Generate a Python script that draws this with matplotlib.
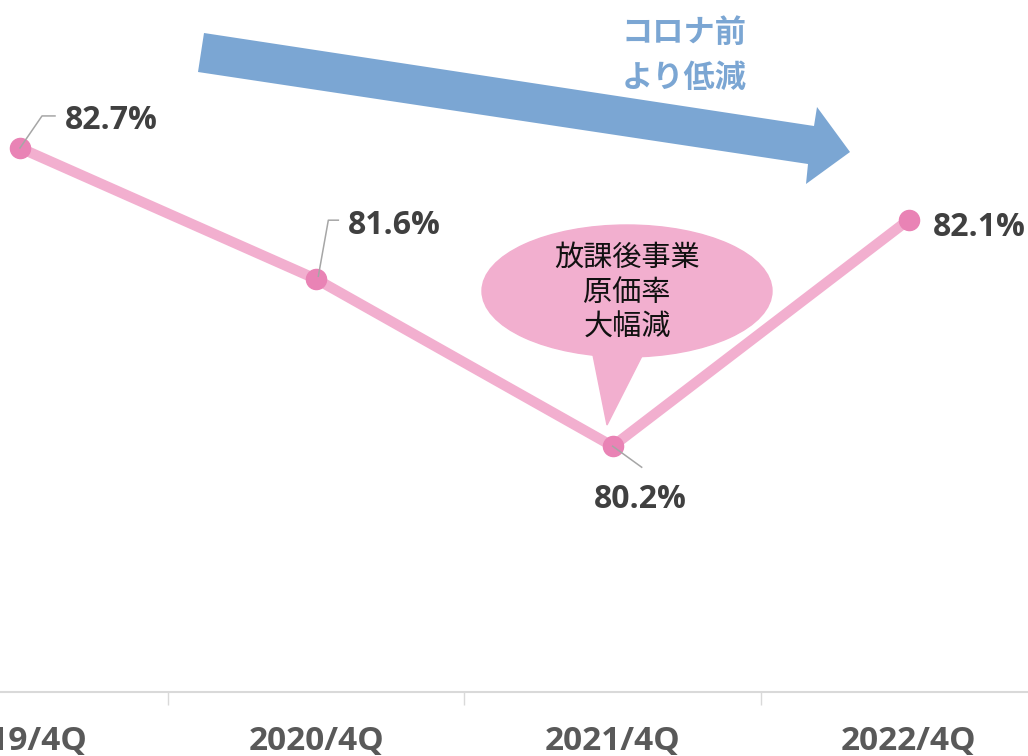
import matplotlib
matplotlib.use("Agg")
import matplotlib.pyplot as plt
from matplotlib.lines import Line2D
from matplotlib.patches import Ellipse, Polygon
from matplotlib.transforms import IdentityTransform

W, H, DPI = 1028, 756, 100

quarters = ["2019/4Q", "2020/4Q", "2021/4Q", "2022/4Q"]
ratio = [82.7, 81.6, 80.2, 82.1]
labels = [f"{v:.1f}%" for v in ratio]

# label placement: (dx, dy) in pixels from the point, ha ; leader vertices
label_off = [(45, 19, "left"), (32, 45, "left"), (28, -62, "center"), (24, -16, "left")]
leaders = [[(0, 0), (22, 32), (35, 32)],
           [(2, 3), (12, 59), (22, 59)],
           [(0, 0), (29, -21)],
           None]

bubble_lines = ["放課後事業", "原価率", "大幅減"]
arrow_lines = ["コロナ前", "より低減"]

LINE = "#F2AFCF"
MARK = "#E983B5"
BLUE = "#7BA6D3"
AXIS = "#D9D9D9"
CJK = ["Noto Sans CJK JP", "DejaVu Sans"]


def fpt(px, py):
    # image pixel (from top-left) -> figure fraction
    return px / W, 1 - py / H


fig = plt.figure(figsize=(W / DPI, H / DPI), dpi=DPI)
ax = fig.add_axes([0, 64 / H, 1, 692 / H])

x = list(range(len(quarters)))
ax.plot(x, ratio, color=LINE, lw=7.5, zorder=2, solid_capstyle="butt")
ax.plot(x, ratio, ls="none", marker="o", ms=14.5, color=MARK, mec=MARK, zorder=4)

ax.set_xlim(-0.0675, 3.4016)
ax.set_ylim(78.14, 83.94)

for s in ("left", "right", "top"):
    ax.spines[s].set_visible(False)
ax.spines["bottom"].set_color(AXIS)
ax.spines["bottom"].set_linewidth(1.5)
ax.set_yticks([])
ax.set_xticks(x)
ax.set_xticklabels(quarters, fontfamily="Open Sans", fontweight="bold",
                   fontsize=24, color="#595959")
ax.tick_params(axis="x", which="major", length=0, pad=23.5)
ax.set_xticks([0.5, 1.5, 2.5], minor=True)
ax.tick_params(axis="x", which="minor", length=9, width=1, color=AXIS)

# data labels + leader lines
for i, v in enumerate(ratio):
    dx, dy, ha = label_off[i]
    ax.annotate(labels[i], (i, v), xytext=(dx, dy), textcoords="offset pixels",
                ha=ha, va="baseline", fontfamily="Open Sans", fontweight="bold",
                fontsize=23, color="#404040", zorder=6)

fig.canvas.draw()
for i, v in enumerate(ratio):
    if leaders[i] is None:
        continue
    px, py = ax.transData.transform((i, v))
    xs = [px + a for a, b in leaders[i]]
    ys = [py + b for a, b in leaders[i]]
    fig.add_artist(Line2D(xs, ys, transform=IdentityTransform(),
                          color="#A6A6A6", lw=1.1, zorder=5))

# speech bubble
ell = Ellipse(fpt(627, 291), 290 / W, 132 / H, transform=fig.transFigure,
              color=LINE, zorder=3)
tail = Polygon([fpt(592, 350), fpt(645, 350), fpt(607, 425)],
               closed=True, transform=fig.transFigure, color=LINE, zorder=3)
fig.add_artist(ell)
fig.add_artist(tail)
for k, t in enumerate(bubble_lines):
    fig.text(*fpt(627, 258 + 35 * k), t, ha="center", va="center",
             fontfamily=CJK, fontsize=21, color="#111111", zorder=7)

# big trend arrow
arrow = Polygon([fpt(204, 33), fpt(814, 126), fpt(817, 107), fpt(850, 152),
                 fpt(806, 184), fpt(808, 164), fpt(198, 72)],
                closed=True, transform=fig.transFigure, color=BLUE, lw=0, zorder=3)
fig.add_artist(arrow)
for k, t in enumerate(arrow_lines):
    fig.text(*fpt(684, 33 + 45 * k), t, ha="center", va="center",
             fontfamily=CJK, fontweight="bold", fontsize=22.5, color=BLUE, zorder=7)

fig.savefig("out.png", dpi=DPI)
